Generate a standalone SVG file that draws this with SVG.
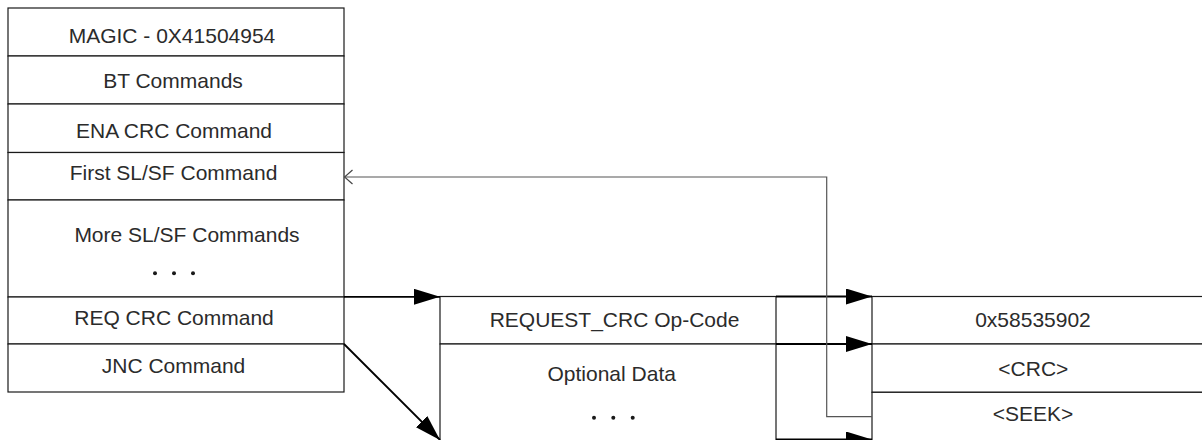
<svg xmlns="http://www.w3.org/2000/svg" width="1202" height="440" viewBox="0 0 1202 440">
  <style>
    .cell { fill: #ffffff; stroke: #1a1a1a; stroke-width: 1.2; }
    .lbl { font-family: "Liberation Sans", Arial, sans-serif; font-size: 21px; fill: #2b2b2b; text-anchor: middle; }
    .dot { fill: #1a1a1a; }
    .arr { fill: none; stroke: #000000; stroke-width: 1.8; }
    .thin { fill: none; stroke: #555555; stroke-width: 1.2; }
  </style>
  <defs>
    <marker id="tri" markerUnits="userSpaceOnUse" viewBox="0 0 26 16" refX="26" refY="8" markerWidth="26" markerHeight="16" orient="auto">
      <path d="M0,0 L26,8 L0,16 Z" fill="#000000"/>
    </marker>
    <marker id="open" markerUnits="userSpaceOnUse" viewBox="0 0 10 16" refX="9" refY="8" markerWidth="10" markerHeight="16" orient="auto">
      <path d="M1,1 L9,8 L1,15" fill="none" stroke="#444444" stroke-width="1.2"/>
    </marker>
  </defs>

  <rect x="0" y="0" width="1202" height="440" fill="#ffffff"/>

  <!-- Left table -->
  <g id="magic">
    <rect class="cell" x="8" y="8" width="336" height="48"/>
    <text class="lbl" x="172" y="42.5">MAGIC - 0X41504954</text>
  </g>
  <g id="bt-commands">
    <rect class="cell" x="8" y="56" width="336" height="48"/>
    <text class="lbl" x="173" y="87.5">BT Commands</text>
  </g>
  <g id="ena-crc">
    <rect class="cell" x="8" y="104" width="336" height="48.5"/>
    <text class="lbl" x="174" y="138.3">ENA CRC Command</text>
  </g>
  <g id="first-slsf">
    <rect class="cell" x="8" y="152.5" width="336" height="47.5"/>
    <text class="lbl" x="173.5" y="180.3">First SL/SF Command</text>
  </g>
  <g id="more-slsf">
    <rect class="cell" x="8" y="200" width="336" height="97"/>
    <text class="lbl" x="187" y="242.3">More SL/SF Commands</text>
    <circle class="dot" cx="155" cy="273.3" r="2"/>
    <circle class="dot" cx="174" cy="273.3" r="2"/>
    <circle class="dot" cx="193" cy="273.3" r="2"/>
  </g>
  <g id="req-crc">
    <rect class="cell" x="8" y="297" width="336" height="47"/>
    <text class="lbl" x="174" y="325">REQ CRC Command</text>
  </g>
  <g id="jnc">
    <rect class="cell" x="8" y="344" width="336" height="48"/>
    <text class="lbl" x="173.5" y="373.3">JNC Command</text>
  </g>

  <!-- Middle table -->
  <g id="request-crc-opcode">
    <rect class="cell" x="440" y="296.5" width="336" height="47.5"/>
    <text class="lbl" x="614.5" y="327">REQUEST_CRC Op-Code</text>
  </g>
  <g id="optional-data">
    <rect class="cell" x="440" y="344" width="336" height="120"/>
    <text class="lbl" x="611.7" y="381">Optional Data</text>
    <circle class="dot" cx="594" cy="417.7" r="2"/>
    <circle class="dot" cx="613.3" cy="417.7" r="2"/>
    <circle class="dot" cx="632.7" cy="417.7" r="2"/>
  </g>

  <!-- Right table -->
  <g id="magic2">
    <rect class="cell" x="872" y="296.5" width="360" height="47.5"/>
    <text class="lbl" x="1033" y="327.3">0x58535902</text>
  </g>
  <g id="crc">
    <rect class="cell" x="872" y="344" width="360" height="48.3"/>
    <text class="lbl" x="1033.3" y="375.5">&lt;CRC&gt;</text>
  </g>
  <g id="seek">
    <rect class="cell" x="872" y="392.3" width="360" height="80"/>
    <text class="lbl" x="1033" y="421">&lt;SEEK&gt;</text>
  </g>

  <!-- Connectors -->
  <g id="connectors">
    <line class="arr" x1="344" y1="296.8" x2="440" y2="296.8" marker-end="url(#tri)"/>
    <line class="arr" x1="344" y1="344" x2="440" y2="440" marker-end="url(#tri)"/>
    <line class="arr" x1="776" y1="296.5" x2="872" y2="296.5" marker-end="url(#tri)"/>
    <line class="arr" x1="776" y1="344" x2="872" y2="344" marker-end="url(#tri)"/>
    <line class="arr" x1="776" y1="439.5" x2="872" y2="439.5" marker-end="url(#tri)"/>
    <polyline class="thin" points="872,416.7 826.7,416.7 826.7,177 344.5,177" marker-end="url(#open)"/>
  </g>
</svg>
